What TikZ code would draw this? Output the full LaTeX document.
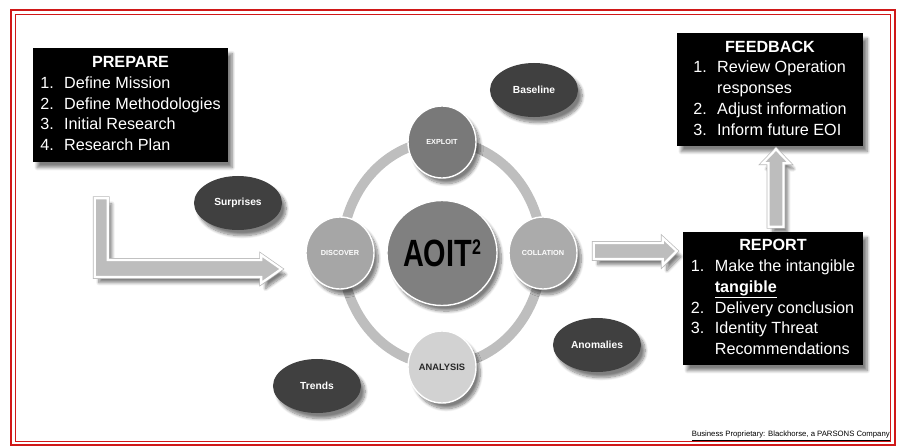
\documentclass[tikz,border=0pt]{standalone}
\usepackage{fontspec}
\setmainfont{Liberation Sans}
\usepackage{graphicx}
\usetikzlibrary{shapes.geometric,shadows.blur,calc}

\definecolor{framered}{HTML}{D01818}
\definecolor{topicgray}{HTML}{404040}
\definecolor{ringgray}{HTML}{BEBEBE}
\definecolor{arrowgray}{HTML}{BDBDBD}

\begin{document}
\begin{tikzpicture}[
		x=0.025cm, y=-0.025cm,
		>=stealth,
		softshadow/.style={blur shadow={shadow xshift=3pt, shadow yshift=-4pt, shadow blur steps=10, shadow opacity=50}},
		infobox/.style={fill=black, text=white, softshadow, inner sep=0pt,
			font=\fontsize{11.5}{14.8}\selectfont},
		phase/.style={ellipse, draw=white, line width=1pt, minimum width=1.7cm, minimum height=1.8cm,
			inner sep=0pt, softshadow, font=\fontsize{5.2}{6}\selectfont\bfseries},
		topic/.style={ellipse, fill=topicgray, text=white, minimum width=2.2cm, minimum height=1.35cm,
			softshadow, font=\fontsize{7.3}{8}\selectfont\bfseries},
		blockarrow/.style={fill=arrowgray, draw=white, line width=1.6pt, line join=miter, softshadow,
			preaction={draw=gray!55, line width=2.6pt}}
	]

		\useasboundingbox (0,0) rectangle (905,447);

		% Frame
		\draw[framered, line width=2pt] (11,10) rectangle (895,445);
		\draw[framered, line width=0.6pt] (15,14) rectangle (890,441);

		% Boxes
		\node[infobox, minimum width=4.875cm, minimum height=2.85cm] (prepare) at (130.5,105) {%
			\begin{tabular}{@{}p{17pt}@{}l@{}}
				\multicolumn{2}{c}{\bfseries PREPARE}\\
				1. & Define Mission\\
				2. & Define Methodologies\\
				3. & Initial Research\\
				4. & Research Plan
			\end{tabular}};
		\node[infobox, minimum width=4.65cm, minimum height=2.825cm] (feedback) at (770,89.5) {%
			\begin{tabular}{@{}p{17pt}@{}l@{}}
				\multicolumn{2}{c}{\bfseries FEEDBACK}\\
				1. & Review Operation\\
				   & responses\\
				2. & Adjust information\\
				3. & Inform future EOI
			\end{tabular}};
		\node[infobox, minimum width=4.5cm, minimum height=3.325cm] (report) at (773,298.5) {%
			\begin{tabular}{@{}p{17pt}@{}l@{}}
				\multicolumn{2}{c}{\bfseries REPORT}\\
				1. & Make the intangible\\
				   & \textbf{\underline{tangible}}\\
				2. & Delivery conclusion\\
				3. & Identity Threat\\
				   & Recommendations
			\end{tabular}};

		% Cycle
		\draw[ringgray, line width=7pt] (442,253) ellipse [x radius=100, y radius=112];
		\node[phase, fill=gray, minimum width=2.425cm, minimum height=2.625cm,
			font=\fontsize{27}{30}\selectfont\bfseries] (aoit) at (442,253)
			{\scalebox{0.76}[1]{AOIT\raisebox{8.6pt}{\fontsize{15}{15}\selectfont 2}}};
		\node[phase, fill=gray!95!black, text=white] (exploit) at (442,142) {EXPLOIT};
		\node[phase, fill=gray!70, text=white] (discover) at (340,253) {DISCOVER};
		\node[phase, fill=gray!66, text=white] (collation) at (543,253) {COLLATION};
		\node[phase, fill=gray!35, text=black!85, font=\fontsize{6.6}{7}\selectfont\bfseries] (analysis) at (442,367) {ANALYSIS};

		% Topics
		\node[topic] (baseline) at (534,90) {Baseline};
		\node[topic] (surprises) at (238,203) {Surprises};
		\node[topic] (anomalies) at (597,345) {Anomalies};
		\node[topic] (trends) at (317,386) {Trends};

		% Arrows
		\coordinate (lstart) at ($(prepare.south west)+(68.5,36)$);
		\coordinate (ltip) at ($(discover.west)+(-24,16)$);
		\path[blockarrow] ($(lstart)+(-6.5,0)$) -- ($(lstart)+(6.5,0)$) |- ($(ltip)+(-20,-9)$)
			-- ($(ltip)+(-20,-14)$) -- (ltip) -- ($(ltip)+(-20,14)$) -- ($(ltip)+(-20,8)$)
			-| cycle;
		\coordinate (rstart) at ($(collation.east)+(16,-2)$);
		\coordinate (rtip) at ($(report.west)+(-6,-47.5)$);
		\path[blockarrow] ($(rstart)+(0,-8)$) -- ($(rtip)+(-14,-8)$) -- ($(rtip)+(-14,-13)$)
			-- (rtip) -- ($(rtip)+(-14,14)$) -- ($(rtip)+(-14,8)$) -- ($(rstart)+(0,8)$) -- cycle;
		\coordinate (ustart) at ($(report.north)+(3,-5)$);
		\coordinate (utip) at ($(feedback.south)+(6,3)$);
		\path[blockarrow] ($(ustart)+(-7.5,0)$) -- ($(utip)+(-7.5,14)$) -- ($(utip)+(-13.5,14)$)
			-- (utip) -- ($(utip)+(13.5,14)$) -- ($(utip)+(7.5,14)$) -- ($(ustart)+(7.5,0)$) -- cycle;

		% Footer
		\node[anchor=east, inner sep=0pt, font=\fontsize{5.5}{6}\selectfont] (footer) at (890,436)
			{\underline{Business Proprietary: Blackhorse, a PARSONS Company}};
	\end{tikzpicture}
\end{document}
